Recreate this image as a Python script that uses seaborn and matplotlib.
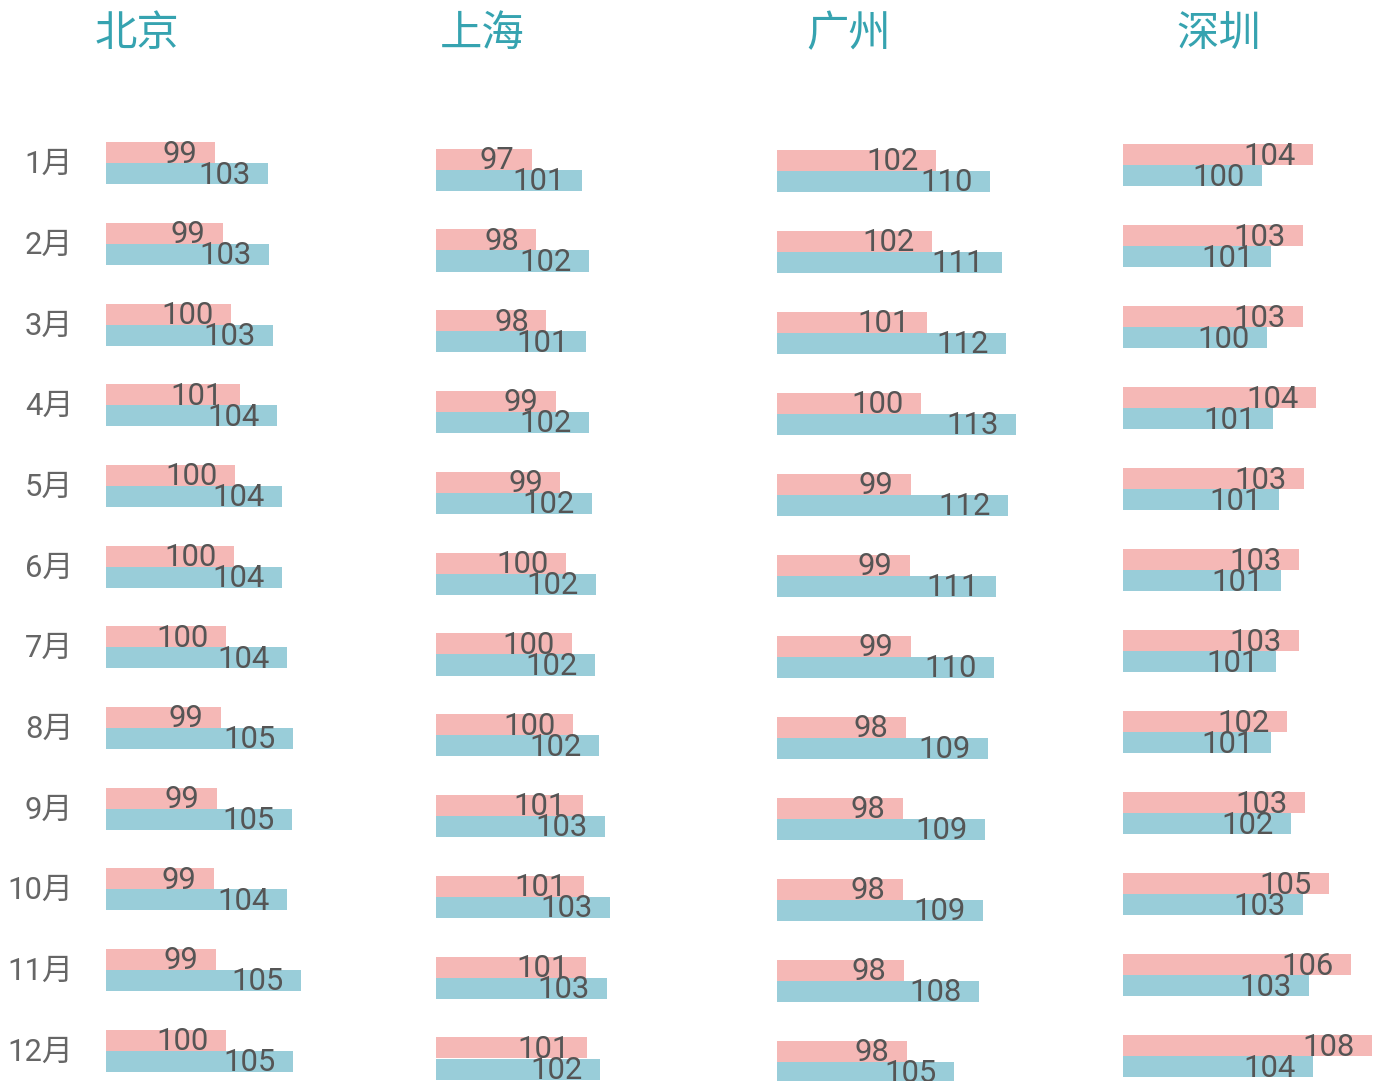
import numpy as np
import pandas as pd
import matplotlib
matplotlib.use("Agg")
import matplotlib.pyplot as plt
import seaborn as sns

# ---------------- data ----------------
months = [f"{i}月" for i in range(1, 13)]
cities = ["北京", "上海", "广州", "深圳"]
series_names = ["系列1", "系列2"]

bj_pink = [98.83, 99.46, 100.07, 100.75, 100.37, 100.27, 99.69, 99.31, 99.01, 98.76, 98.91, 99.69]
bj_blue = [102.87, 102.95, 103.25, 103.55, 103.93, 103.93, 104.29, 104.76, 104.67, 104.29, 105.37, 104.76]
sh_pink = [97.41, 97.72, 98.45, 99.15, 99.45, 99.85, 100.33, 100.40, 101.10, 101.20, 101.30, 101.39]
sh_blue = [101.01, 101.56, 101.30, 101.56, 101.78, 102.04, 101.97, 102.26, 102.72, 103.04, 102.84, 102.36]
gz_pink = [102.27, 101.72, 101.04, 100.21, 98.89, 98.71, 98.85, 98.20, 97.79, 97.79, 97.89, 98.30]
gz_blue = [109.71, 111.31, 111.86, 113.27, 112.21, 110.53, 110.26, 109.43, 109.02, 108.71, 108.16, 104.82]
sz_pink = [103.66, 102.92, 102.92, 103.86, 102.99, 102.60, 102.60, 101.69, 103.02, 104.80, 106.45, 108.00]
sz_blue = [99.83, 100.55, 100.23, 100.65, 101.14, 101.26, 100.87, 100.52, 102.00, 102.89, 103.34, 103.66]

pink_series = [bj_pink, sh_pink, gz_pink, sz_pink]
blue_series = [bj_blue, sh_blue, gz_blue, sz_blue]

# axis minimum of each panel's value axis
x_min = [90.6, 90.45, 80.53, 89.56]

# ---------------- layout / style ----------------
W, H = 1384, 1081
PINK = "#f5b8b6"
BLUE = "#99cdd9"
TEAL = "#36a3b0"

panel_left_px = [106, 436, 777, 1123]
panel_width_px = [250, 250, 290, 261]
px_per_unit = [13.2, 13.8, 7.3, 13.5]
row0_px = [163.3, 169.7, 171.0, 165.3]
row_step_px = [80.67, 80.8, 81.0, 81.0]
title_x_px = [137, 482, 849, 1219]
title_y_px = 34

sns.set_theme(style="white")
plt.rcParams["font.family"] = ["Roboto", "Noto Sans CJK SC", "DejaVu Sans"]

fig = plt.figure(figsize=(W / 100, H / 100), dpi=100)
fig.patch.set_facecolor("white")

for p in range(4):
    left = panel_left_px[p]
    width = panel_width_px[p]
    y0 = row0_px[p]
    step = row_step_px[p]
    top_px = y0 - 0.5 * step
    bottom_px = y0 + 11.5 * step
    ax = fig.add_axes([left / W, 1 - bottom_px / H, width / W, (bottom_px - top_px) / H])

    df = pd.DataFrame({
        "month": months * 2,
        "value": list(pink_series[p]) + list(blue_series[p]),
        "series": [series_names[0]] * 12 + [series_names[1]] * 12,
    })
    sns.barplot(data=df, y="month", x="value", hue="series", order=months,
                hue_order=series_names, palette=[PINK, BLUE], width=0.52,
                orient="h", ax=ax, legend=False, linewidth=0, saturation=1,
                errorbar=None)
    ax.set_xlim(x_min[p], x_min[p] + width / px_per_unit[p])
    ax.set_ylim(11.5, -0.5)
    ax.axis("off")

    for cont in ax.containers:
        for bar in cont:
            val = bar.get_width()
            yc = bar.get_y() + bar.get_height() / 2
            ax.annotate(f"{val:.0f}", (val, yc), xytext=(-12.5, -1),
                        textcoords="offset points", ha="right", va="center",
                        fontsize=22.3, color="#555555",
                        family=["Roboto", "DejaVu Sans"], annotation_clip=False)

    if p == 0:
        for i, m in enumerate(months):
            ax.annotate(m, (0, i), xycoords=("axes fraction", "data"),
                        xytext=(-23.5, -1), textcoords="offset points",
                        ha="right", va="center", fontsize=22.3, color="#666666",
                        family=["Roboto", "Noto Sans CJK SC"], annotation_clip=False)

    fig.text(title_x_px[p] / W, 1 - title_y_px / H, cities[p], ha="center", va="center",
             fontsize=30.5, color=TEAL, family=["Noto Sans CJK SC", "DejaVu Sans"])

fig.savefig("out.png", dpi=100, facecolor="white")
